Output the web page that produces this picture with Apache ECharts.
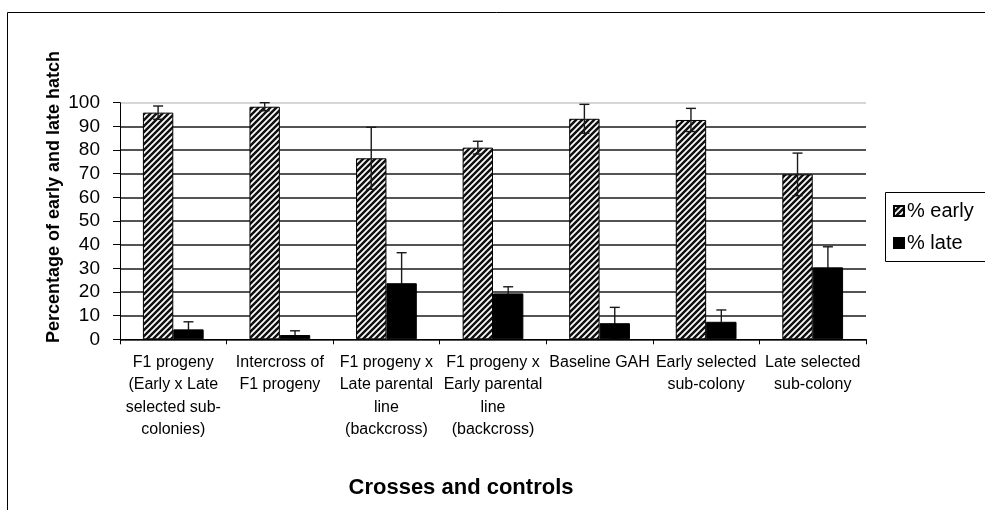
<!DOCTYPE html>
<html>
<head>
<meta charset="utf-8">
<script src="https://cdn.jsdelivr.net/npm/echarts@6/dist/echarts.min.js"></script>
<style>
html,body{margin:0;padding:0;background:#fff;}
#chart{width:985px;height:510px;}
</style>
</head>
<body>
<div id="chart"></div>
<script>
var categories = [
  "F1 progeny\n(Early x Late\nselected sub-\ncolonies)",
  "Intercross of\nF1 progeny",
  "F1 progeny x\nLate parental\nline\n(backcross)",
  "F1 progeny x\nEarly parental\nline\n(backcross)",
  "Baseline GAH",
  "Early selected\nsub-colony",
  "Late selected\nsub-colony"
];
var earlyPct = [95.8, 98.3, 76.5, 81.0, 93.2, 92.7, 69.7];
var latePct = [4.2, 1.8, 23.7, 19.4, 6.8, 7.4, 30.4];
var earlyErr = [2.8, 1.7, 13.1, 2.7, 6.1, 4.9, 9.0];
var lateErr = [3.2, 1.8, 12.9, 2.8, 6.7, 5.0, 8.7];
var yTicks = [0, 10, 20, 30, 40, 50, 60, 70, 80, 90, 100];

var FONT = '"Liberation Sans", Arial, sans-serif';
var CAT_GAP = 0.43;

// diagonal hatch pattern
var tile = document.createElement('canvas');
tile.width = 6; tile.height = 6;
var c = tile.getContext('2d');
c.fillStyle = '#fff';
c.fillRect(0, 0, 6, 6);
c.strokeStyle = '#111';
c.lineWidth = 2.5;
c.beginPath();
c.moveTo(-1, 7); c.lineTo(7, -1);
c.moveTo(-4, 4); c.lineTo(4, -4);
c.moveTo(2, 10); c.lineTo(10, 2);
c.stroke();

function errData(vals, errs) {
  return vals.map(function (v, i) { return [i, v - errs[i], v + errs[i], v]; });
}

function errRenderer(side, lowColor) {
  return function (params, api) {
    var idx = api.value(0);
    var lo = api.coord([idx, api.value(1)]);
    var hi = api.coord([idx, api.value(2)]);
    var mid = api.coord([idx, api.value(3)]);
    var band = api.size([1, 0])[0];
    var w = band * (1 - CAT_GAP) / 2;
    var x = lo[0] + side * w / 2;
    var cap = 5;
    var st = { stroke: '#1a1a1a', lineWidth: 1.4 };
    var stLow = { stroke: lowColor, lineWidth: 1.4 };
    return {
      type: 'group',
      children: [
        { type: 'line', shape: { x1: x, y1: mid[1], x2: x, y2: hi[1] }, style: st },
        { type: 'line', shape: { x1: x - cap, y1: hi[1], x2: x + cap, y2: hi[1] }, style: st },
        { type: 'line', shape: { x1: x, y1: lo[1], x2: x, y2: mid[1] }, style: stLow },
        { type: 'line', shape: { x1: x - cap, y1: lo[1], x2: x + cap, y2: lo[1] }, style: stLow }
      ]
    };
  };
}

var gridColors = yTicks.map(function (t, i) { return i === yTicks.length - 1 ? '#c8c8c8' : '#1a1a1a'; });

var chart = echarts.init(document.getElementById('chart'), null, { renderer: 'canvas' });
chart.setOption({
  animation: false,
  backgroundColor: '#fff',
  textStyle: { fontFamily: FONT, color: '#000' },
  graphic: [{
    type: 'rect',
    shape: { x: 7.5, y: 12.5, width: 1200, height: 800 },
    style: { fill: 'none', stroke: '#000', lineWidth: 1 },
    silent: true, z: -10
  }, {
    type: 'rect',
    shape: { x: 885.5, y: 192.5, width: 200, height: 69 },
    style: { fill: '#fff', stroke: '#000', lineWidth: 1 },
    silent: true, z: 0
  }],
  grid: { left: 120, right: 119, top: 102.7, bottom: 170.7, containLabel: false },
  legend: {
    orient: 'vertical',
    left: 885, top: 192,
    padding: [9, 10, 9, 8],
    itemGap: 12,
    itemWidth: 10, itemHeight: 10,
    z: 10,
    textStyle: { fontFamily: FONT, fontSize: 20, color: '#000', padding: [0, 0, 0, -2] },
    data: [
      { name: '% early', icon: 'rect' },
      { name: '% late', icon: 'rect' }
    ]
  },
  xAxis: {
    type: 'category',
    data: categories,
    name: 'Crosses and controls',
    nameLocation: 'middle',
    nameGap: 138,
    nameMoveOverlap: false,
    nameTextStyle: { fontFamily: FONT, fontSize: 22, fontWeight: 'bold', color: '#000', padding: [0, 64, 0, 0] },
    axisLine: { lineStyle: { color: '#000', width: 1 } },
    axisTick: { show: true, length: 5, lineStyle: { color: '#000' } },
    axisLabel: {
      interval: 0, margin: 12, fontFamily: FONT, fontSize: 16, lineHeight: 22.5, color: '#000'
    },
    splitLine: { show: false }
  },
  yAxis: {
    type: 'value',
    min: 0, max: 100, interval: 10,
    name: 'Percentage of early and late hatch',
    nameLocation: 'middle',
    nameGap: 57,
    nameMoveOverlap: false,
    nameRotate: 90,
    nameTextStyle: { fontFamily: FONT, fontSize: 18, fontWeight: 'bold', color: '#000', padding: [0, 0, 0, 48] },
    axisLine: { show: true, lineStyle: { color: '#000', width: 1 } },
    axisTick: { show: true, length: 7, lineStyle: { color: '#000' } },
    axisLabel: { margin: 20, fontFamily: FONT, fontSize: 19, color: '#000' },
    splitLine: { show: true, lineStyle: { color: gridColors, width: 1.6 } }
  },
  series: [
    {
      name: '% early', type: 'bar', data: earlyPct,
      barGap: '0%', barCategoryGap: (CAT_GAP * 100) + '%',
      itemStyle: { color: { image: tile, repeat: 'repeat' }, borderColor: '#000', borderWidth: 1 },
      z: 2
    },
    {
      name: '% late', type: 'bar', data: latePct,
      barGap: '0%', barCategoryGap: (CAT_GAP * 100) + '%',
      itemStyle: { color: '#000', borderColor: '#000', borderWidth: 1 },
      z: 2
    },
    {
      type: 'custom', name: 'earlyErr', data: errData(earlyPct, earlyErr),
      renderItem: errRenderer(-1, '#1a1a1a'), encode: { x: 0, y: [1, 2] }, z: 5, silent: true
    },
    {
      type: 'custom', name: 'lateErr', data: errData(latePct, lateErr),
      renderItem: errRenderer(1, '#000'), encode: { x: 0, y: [1, 2] }, z: 5, silent: true
    }
  ]
});
</script>
</body>
</html>
